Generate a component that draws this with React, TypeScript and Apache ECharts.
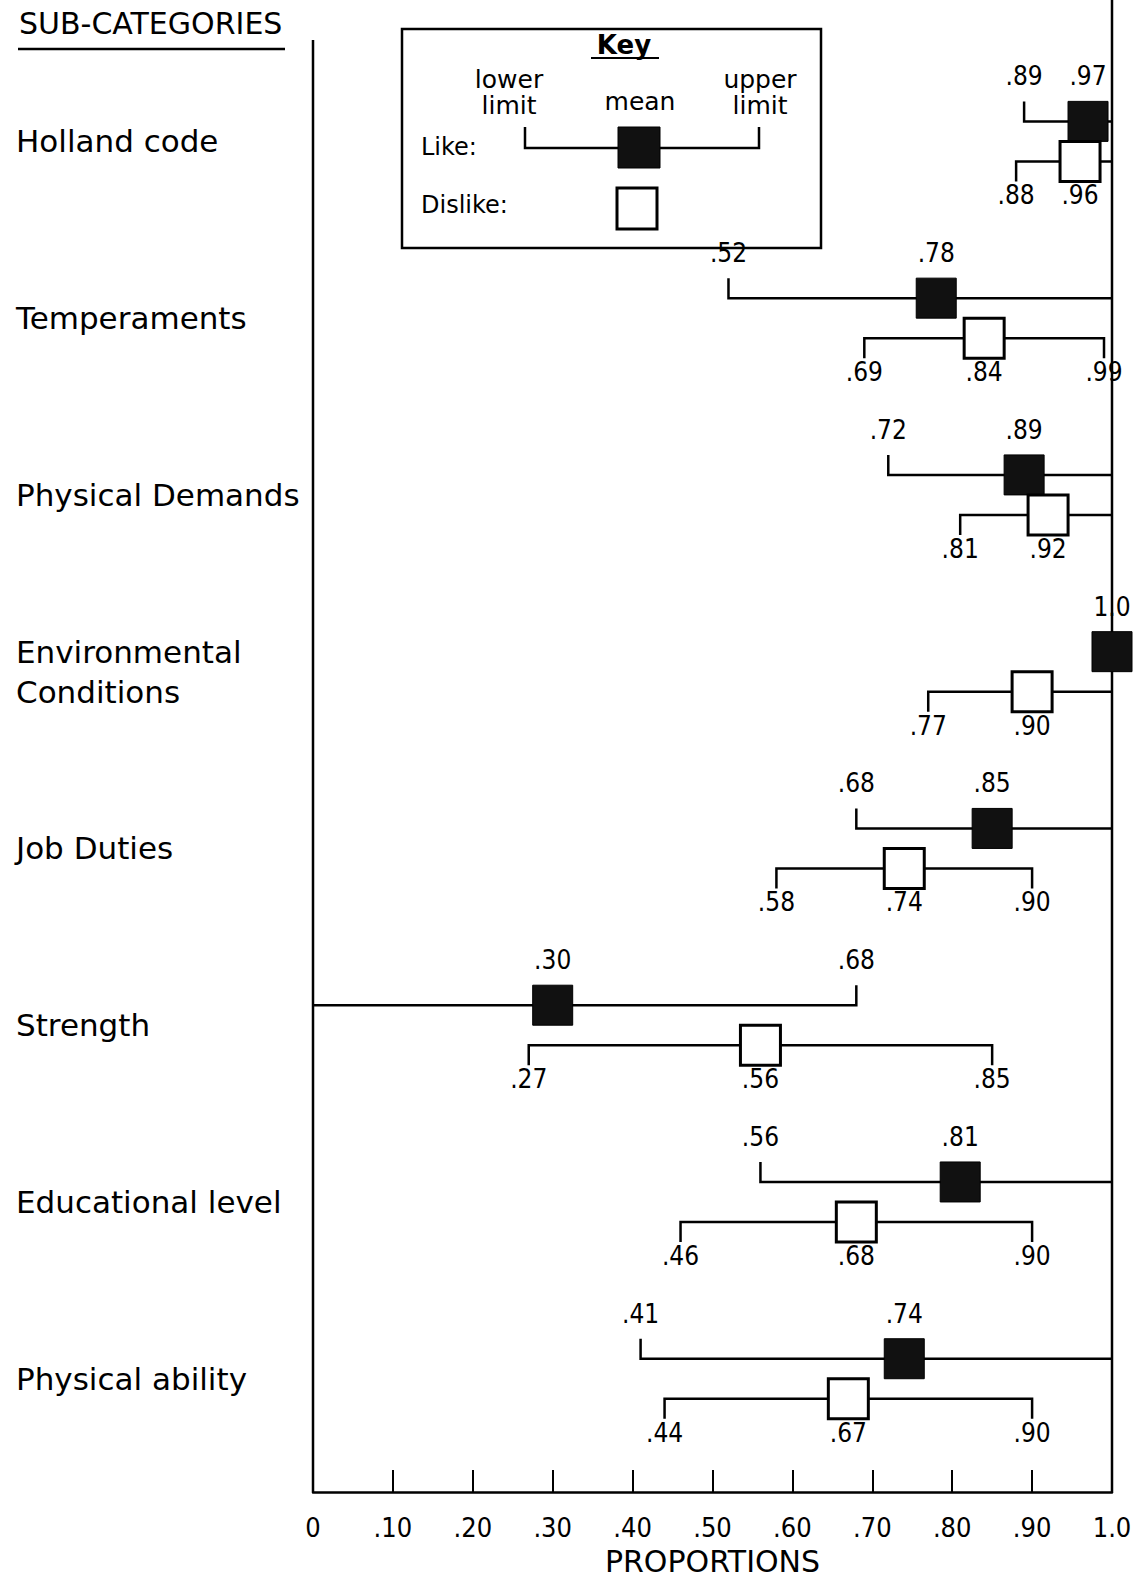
import React, { useEffect, useRef } from "react";
import * as echarts from "echarts";

const categories = [
  "Holland code",
  "Temperaments",
  "Physical Demands",
  "Environmental\nConditions",
  "Job Duties",
  "Strength",
  "Educational level",
  "Physical ability",
];

const likeLower = [0.89, 0.52, 0.72, 1.0, 0.68, 0.0, 0.56, 0.41];
const likeMean = [0.97, 0.78, 0.89, 1.0, 0.85, 0.3, 0.81, 0.74];
const likeUpper = [1.0, 1.0, 1.0, 1.0, 1.0, 0.68, 1.0, 1.0];

const dislikeLower = [0.88, 0.69, 0.81, 0.77, 0.58, 0.27, 0.46, 0.44];
const dislikeMean = [0.96, 0.84, 0.92, 0.9, 0.74, 0.56, 0.68, 0.67];
const dislikeUpper = [1.0, 0.99, 1.0, 1.0, 0.9, 0.85, 0.9, 0.9];

const xTicks = [0, 0.1, 0.2, 0.3, 0.4, 0.5, 0.6, 0.7, 0.8, 0.9, 1.0];

const FONT = "'DejaVu Sans', 'Liberation Sans', sans-serif";
const NUM_FONT =
  "'Liberation Sans Narrow', 'DejaVu Sans Condensed', 'Liberation Sans', sans-serif";

function fmt(v: number): string {
  if (v >= 1) return "1.0";
  if (v <= 0) return "0";
  return "." + String(Math.round(v * 100)).padStart(2, "0");
}

const rows: number[][] = [];
categories.forEach((_, i) => {
  rows.push([i, likeLower[i], likeMean[i], likeUpper[i], 0]);
  rows.push([i, dislikeLower[i], dislikeMean[i], dislikeUpper[i], 1]);
});

export default function App() {
  const ref = useRef<HTMLDivElement>(null);

  useEffect(() => {
    if (!ref.current) return;
    const chart = echarts.init(ref.current, null, { renderer: "svg" });

    const ink = "#000";

    const renderInterval = (params: any, api: any) => {
      const cat = api.value(0);
      const lo = api.value(1);
      const mean = api.value(2);
      const hi = api.value(3);
      const kind = api.value(4);
      const cy = api.coord([0, cat])[1];
      const dir = kind === 0 ? -1 : 1;
      const y = cy + dir * 20;
      const xl = api.coord([lo, cat])[0];
      const xm = api.coord([mean, cat])[0];
      const xh = api.coord([hi, cat])[0];
      const tick = 20;
      const children: any[] = [];
      if (xh - xl > 1) {
        const pts: number[][] = [];
        if (lo > 0 && lo < mean) pts.push([xl, y + dir * tick]);
        pts.push([xl, y]);
        pts.push([xh, y]);
        if (hi < 1 && hi > mean) pts.push([xh, y + dir * tick]);
        children.push({
          type: "polyline",
          shape: { points: pts },
          style: { stroke: ink, lineWidth: 2.5, fill: null },
        });
      }
      children.push({
        type: "rect",
        shape: { x: xm - 20, y: y - 20, width: 40, height: 40 },
        style: {
          fill: kind === 0 ? "#111" : "#fff",
          stroke: ink,
          lineWidth: kind === 0 ? 1 : 3,
        },
      });
      const ly = kind === 0 ? y - 45 : y + 34;
      const txt = (x: number, v: number) => ({
        type: "text",
        x,
        y: ly,
        style: {
          text: fmt(v),
          fill: ink,
          fontSize: 26,
          fontFamily: NUM_FONT,
          align: "center",
          verticalAlign: "middle",
        },
      });
      if (lo > 0 && lo < mean) children.push(txt(xl, lo));
      children.push(txt(xm, mean));
      if (hi < 1 && hi > mean) children.push(txt(xh, hi));
      return { type: "group", children };
    };

    const renderFrame = (params: any, api: any) => {
      const cs = params.coordSys;
      const x0 = api.coord([0, 0])[0];
      const x1 = api.coord([1, 0])[0];
      const bottom = cs.y + cs.height + 25;
      return {
        type: "group",
        children: [
          {
            type: "line",
            shape: { x1: x0, y1: cs.y - 13, x2: x0, y2: bottom },
            style: { stroke: ink, lineWidth: 2.5 },
          },
          {
            type: "line",
            shape: { x1: x1, y1: 0, x2: x1, y2: bottom },
            style: { stroke: ink, lineWidth: 2.5 },
          },
        ],
      };
    };

    const t = (x: number, y: number, text: string, align = "center", extra: any = {}) => ({
      type: "text",
      x,
      y,
      style: {
        text,
        fill: ink,
        fontSize: 25,
        fontFamily: FONT,
        align,
        verticalAlign: "middle",
        ...extra,
      },
    });

    chart.setOption({
      animation: false,
      backgroundColor: "#fff",
      grid: { left: 313, right: 23, top: 53, bottom: 96 },
      xAxis: {
        type: "value",
        min: 0,
        max: 1,
        interval: 0.1,
        offset: 25,
        axisLine: { show: true, lineStyle: { color: ink, width: 2.5 } },
        axisTick: { show: true, inside: true, length: 22, lineStyle: { color: ink, width: 2 } },
        splitLine: { show: false },
        axisLabel: {
          margin: 22,
          color: ink,
          fontSize: 27,
          fontFamily: NUM_FONT,
          formatter: (v: number) => {
            const m = xTicks.find((tv) => Math.abs(tv - v) < 1e-6);
            return fmt(m === undefined ? v : m);
          },
        },
        name: "PROPORTIONS",
        nameLocation: "middle",
        nameGap: 47,
        nameTextStyle: { color: ink, fontSize: 30, fontFamily: FONT },
      },
      yAxis: {
        type: "category",
        inverse: true,
        data: categories,
        axisLine: { show: false },
        axisTick: { show: false },
        splitLine: { show: false },
        axisLabel: {
          align: "left",
          margin: 297,
          color: ink,
          fontSize: 31,
          lineHeight: 40,
          fontFamily: FONT,
        },
      },
      series: [
        {
          type: "custom",
          name: "frame",
          renderItem: renderFrame,
          data: [[0, 0]],
          encode: { x: 0, y: 1 },
          silent: true,
          z: 1,
        },
        {
          type: "custom",
          name: "intervals",
          renderItem: renderInterval,
          data: rows,
          encode: { x: [1, 2, 3], y: 0 },
          z: 2,
        },
      ],
      graphic: [
        {
          type: "text",
          x: 19,
          y: 23,
          style: {
            text: "SUB-CATEGORIES",
            fill: ink,
            fontSize: 30,
            fontFamily: FONT,
            align: "left",
            verticalAlign: "middle",
          },
        },
        {
          type: "line",
          shape: { x1: 18, y1: 49, x2: 285, y2: 49 },
          style: { stroke: ink, lineWidth: 2.5 },
        },
        {
          type: "group",
          z: 10,
          children: [
            {
              type: "rect",
              shape: { x: 402, y: 29, width: 419, height: 219 },
              style: { fill: "#fff", stroke: ink, lineWidth: 2.5 },
            },
            t(624, 45, "Key", "center", { fontWeight: "bold", fontSize: 26 }),
            {
              type: "line",
              shape: { x1: 591, y1: 58, x2: 659, y2: 58 },
              style: { stroke: ink, lineWidth: 2 },
            },
            t(509, 79, "lower"),
            t(509, 105, "limit"),
            t(640, 101, "mean"),
            t(760, 79, "upper"),
            t(760, 105, "limit"),
            t(421, 147, "Like:", "left", { fontSize: 24 }),
            t(421, 205, "Dislike:", "left", { fontSize: 24 }),
            {
              type: "polyline",
              shape: { points: [[525, 127], [525, 148], [759, 148], [759, 127]] },
              style: { stroke: ink, lineWidth: 2.5, fill: null },
            },
            {
              type: "rect",
              shape: { x: 618, y: 127, width: 42, height: 41 },
              style: { fill: "#111", stroke: ink, lineWidth: 1 },
            },
            {
              type: "rect",
              shape: { x: 617, y: 188, width: 40, height: 41 },
              style: { fill: "#fff", stroke: ink, lineWidth: 3 },
            },
          ],
        },
      ],
    });

    return () => chart.dispose();
  }, []);

  return (
    <div
      ref={ref}
      style={{
        position: "absolute",
        left: 0,
        top: 0,
        width: 1135,
        height: 1581,
        background: "#fff",
      }}
    />
  );
}
